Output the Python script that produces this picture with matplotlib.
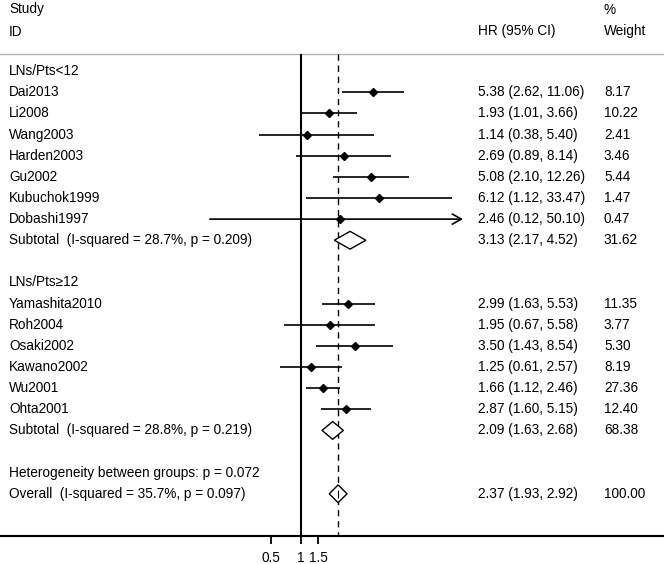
#!/usr/bin/env python3
"""Forest plot of HR by LNs/Pts subgroup, laid out like a Stata metan chart."""

import matplotlib

matplotlib.use("Agg")
import matplotlib.pyplot as plt
import numpy as np
from matplotlib.patches import Polygon
from matplotlib.ticker import FixedFormatter, FixedLocator, NullLocator

plt.rcParams["font.family"] = ["Liberation Sans", "DejaVu Sans"]
plt.rcParams["font.size"] = 9.8

# --- data -------------------------------------------------------------------
group_titles = ["LNs/Pts<12", "LNs/Pts\u226512"]

g1_names = ["Dai2013", "Li2008", "Wang2003", "Harden2003", "Gu2002", "Kubuchok1999", "Dobashi1997"]
g1_hr = [5.38, 1.93, 1.14, 2.69, 5.08, 6.12, 2.46]
g1_lo = [2.62, 1.01, 0.38, 0.89, 2.10, 1.12, 0.12]
g1_hi = [11.06, 3.66, 5.40, 8.14, 12.26, 33.47, 50.10]
g1_weight = [8.17, 10.22, 2.41, 3.46, 5.44, 1.47, 0.47]

g2_names = ["Yamashita2010", "Roh2004", "Osaki2002", "Kawano2002", "Wu2001", "Ohta2001"]
g2_hr = [2.99, 1.95, 3.50, 1.25, 1.66, 2.87]
g2_lo = [1.63, 0.67, 1.43, 0.61, 1.12, 1.60]
g2_hi = [5.53, 5.58, 8.54, 2.57, 2.46, 5.15]
g2_weight = [11.35, 3.77, 5.30, 8.19, 27.36, 12.40]

# subtotal: hr, lo, hi, weight, I-squared, p
subtotals = [
    (3.13, 2.17, 4.52, 31.62, 28.7, 0.209),
    (2.09, 1.63, 2.68, 68.38, 28.8, 0.219),
]
het_between_p = 0.072
overall = (2.37, 1.93, 2.92, 100.00, 35.7, 0.097)

xtick_values = [0.5, 1, 1.5]
xtick_labels = ["0.5", "1", "1.5"]

# --- layout (pixels of the 664x564 canvas) ----------------------------------
W, H = 664, 564
X_ONE, PX_PER_LN = 301, 43.0  # x pixel of HR=1, pixels per ln unit
ROW0, ROW_H = 71.2, 21.13  # y pixel of first row, row pitch
CI_CLIP = 43.3  # CIs beyond this are drawn as arrows
COL_LABEL, COL_HR, COL_W = 9 / W, 478 / W, 604 / W
DIAMOND_H = 0.42


def fmt_ci(hr, lo, hi):
    return f"{hr:.2f} ({lo:.2f}, {hi:.2f})"


def draw_diamond(ax, y, hr, lo, hi, tick=False):
    pts = [(lo, y), (hr, y - DIAMOND_H), (hi, y), (hr, y + DIAMOND_H)]
    ax.add_patch(Polygon(pts, closed=True, facecolor="white", edgecolor="black", lw=1.0, zorder=4))
    if tick:
        ax.vlines(hr, y - DIAMOND_H * 0.45, y + DIAMOND_H * 0.45, color="black", lw=0.8, zorder=5)


def main():
    fig = plt.figure(figsize=(W / 100, H / 100), dpi=100)
    ax = fig.add_axes([0, 0, 1, 1])
    ax.set_xscale("log")
    ax.set_xlim(np.exp(-X_ONE / PX_PER_LN), np.exp((W - X_ONE) / PX_PER_LN))
    ax.set_ylim((H - ROW0) / ROW_H, -ROW0 / ROW_H)
    tr = ax.get_yaxis_transform()

    y_head1 = (9.5 - ROW0) / ROW_H
    y_head2 = (31.5 - ROW0) / ROW_H
    y_rule = (54 - ROW0) / ROW_H
    y_axis = 22.0

    ax.text(COL_LABEL, y_head1, "Study", transform=tr, va="center")
    ax.text(COL_LABEL, y_head2, "ID", transform=tr, va="center")
    ax.text(COL_HR, y_head2, "HR (95% CI)", transform=tr, va="center")
    ax.text(COL_W, y_head1, "%", transform=tr, va="center")
    ax.text(COL_W, y_head2, "Weight", transform=tr, va="center")
    ax.axhline(y_rule, color="#b4b4b4", lw=1.0)

    # reference lines
    ax.vlines(1, y_rule, y_axis, color="black", lw=1.5, zorder=2)
    ax.vlines(overall[0], y_rule, y_axis, color="black", lw=1.0, linestyles=(0, (4.5, 3.5)), zorder=2)

    groups = [
        (g1_names, g1_hr, g1_lo, g1_hi, g1_weight),
        (g2_names, g2_hr, g2_lo, g2_hi, g2_weight),
    ]
    row = 0
    for gi, (names, hr, lo, hi, wt) in enumerate(groups):
        ax.text(COL_LABEL, row, group_titles[gi], transform=tr, va="center")
        row += 1
        for n, h, l, u, w in zip(names, hr, lo, hi, wt):
            ax.text(COL_LABEL, row, n, transform=tr, va="center")
            ax.text(COL_HR, row, fmt_ci(h, l, u), transform=tr, va="center")
            ax.text(COL_W, row, f"{w:.2f}", transform=tr, va="center")
            if u > CI_CLIP:
                ax.annotate("", xy=(CI_CLIP, row), xytext=(l, row),
                            arrowprops=dict(arrowstyle="->,head_length=0.5,head_width=0.28",
                                            lw=1.2, color="black", shrinkA=0, shrinkB=0,
                                            mutation_scale=13), zorder=3)
            else:
                ax.hlines(row, l, u, color="black", lw=1.2, zorder=3)
            ax.plot(h, row, marker="D", ms=4.0, color="black", zorder=4)
            row += 1
        s_hr, s_lo, s_hi, s_w, s_i2, s_p = subtotals[gi]
        ax.text(COL_LABEL, row, f"Subtotal  (I-squared = {s_i2:.1f}%, p = {s_p:.3f})",
                transform=tr, va="center")
        ax.text(COL_HR, row, fmt_ci(s_hr, s_lo, s_hi), transform=tr, va="center")
        ax.text(COL_W, row, f"{s_w:.2f}", transform=tr, va="center")
        draw_diamond(ax, row, s_hr, s_lo, s_hi)
        row += 2

    ax.text(COL_LABEL, row, f"Heterogeneity between groups: p = {het_between_p:.3f}",
            transform=tr, va="center")
    row += 1
    o_hr, o_lo, o_hi, o_w, o_i2, o_p = overall
    ax.text(COL_LABEL, row, f"Overall  (I-squared = {o_i2:.1f}%, p = {o_p:.3f})",
            transform=tr, va="center")
    ax.text(COL_HR, row, fmt_ci(o_hr, o_lo, o_hi), transform=tr, va="center")
    ax.text(COL_W, row, f"{o_w:.2f}", transform=tr, va="center")
    draw_diamond(ax, row, o_hr, o_lo, o_hi, tick=True)

    # x axis drawn as the bottom spine at the axis row
    for side in ("top", "left", "right"):
        ax.spines[side].set_visible(False)
    ax.spines["bottom"].set_position(("data", y_axis))
    ax.spines["bottom"].set_linewidth(1.5)
    ax.xaxis.set_major_locator(FixedLocator(xtick_values))
    ax.xaxis.set_major_formatter(FixedFormatter(xtick_labels))
    ax.xaxis.set_minor_locator(NullLocator())
    ax.tick_params(axis="x", direction="out", length=5.8, width=1.3, pad=5, labelsize=9.8)
    ax.set_yticks([])

    fig.savefig("out.png", dpi=100)
    plt.close(fig)


if __name__ == "__main__":
    main()
